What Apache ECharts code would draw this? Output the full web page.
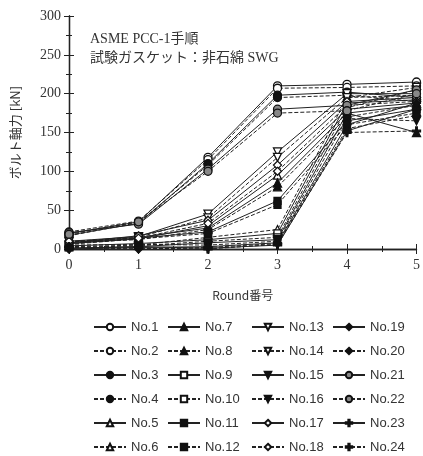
<!DOCTYPE html>
<html><head><meta charset="utf-8">
<script src="https://cdn.jsdelivr.net/npm/echarts@6/dist/echarts.min.js"></script>
<style>html,body{margin:0;padding:0;background:#fff}#c{width:423px;height:456px}</style>
</head><body><div id="c"></div>
<script>
const rounds = [0, 1, 2, 3, 4, 5];
const names = ['No.1','No.2','No.3','No.4','No.5','No.6','No.7','No.8','No.9','No.10','No.11','No.12',
  'No.13','No.14','No.15','No.16','No.17','No.18','No.19','No.20','No.21','No.22','No.23','No.24'];
const no1  = [20, 35, 118, 210, 212, 215];
const no2  = [22, 36, 115, 207, 208, 210];
const no3  = [18, 33, 110, 198, 202, 195];
const no4  = [17, 34, 108, 195, 198, 190];
const no5  = [7, 13, 30, 95, 180, 188];
const no6  = [3, 5, 15, 25, 195, 198];
const no7  = [8, 15, 27, 85, 175, 150];
const no8  = [9, 12, 25, 80, 170, 185];
const no9  = [4, 7, 12, 20, 188, 192];
const no10 = [2, 4, 10, 15, 182, 205];
const no11 = [7, 14, 22, 62, 165, 180];
const no12 = [6, 13, 20, 57, 160, 175];
const no13 = [10, 16, 45, 125, 200, 200];
const no14 = [9, 15, 40, 118, 195, 208];
const no15 = [1, 3, 8, 12, 175, 185];
const no16 = [5, 6, 5, 10, 168, 165];
const no17 = [8, 17, 37, 108, 190, 195];
const no18 = [10, 14, 33, 100, 185, 190];
const no19 = [0, 2, 3, 8, 160, 188];
const no20 = [2, 0, 2, 7, 155, 172];
const no21 = [21, 32, 103, 180, 185, 205];
const no22 = [19, 35, 100, 175, 178, 200];
const no23 = [1, 3, 1, 5, 152, 180];
const no24 = [3, 1, 0, 6, 150, 152];
const values = [no1,no2,no3,no4,no5,no6,no7,no8,no9,no10,no11,no12,no13,no14,no15,no16,no17,no18,no19,no20,no21,no22,no23,no24];

const DOWN = 'path://M0,0 L10,0 L5,9 Z';
const PLUS = 'path://M4,0 H6 V4 H10 V6 H6 V10 H4 V6 H0 V4 H4 Z';
function markerFor(i) {
  const pair = Math.floor(i / 2);
  const map = [
    ['circle', '#fff'], ['circle', '#111'], ['triangle', '#fff'], ['triangle', '#111'],
    ['rect', '#fff'], ['rect', '#111'], [DOWN, '#fff'], [DOWN, '#111'],
    ['diamond', '#fff'], ['diamond', '#111'], ['circle', '#888'], [PLUS, '#111']
  ];
  return map[pair];
}
const series = names.map((n, i) => {
  const m = markerFor(i);
  const dashed = i % 2 === 1;
  return {
    name: n, type: 'line',
    data: rounds.map((r, k) => [r, values[i][k]]),
    symbol: m[0], symbolSize: m[0] === 'rect' ? 7 : 8,
    lineStyle: { color: '#222', width: 1, type: dashed ? [4, 2] : 'solid' },
    itemStyle: { color: m[1], borderColor: '#111', borderWidth: 1.3 },
    emphasis: { disabled: true }, animation: false
  };
});
function legendCol(left, items) {
  return {
    left: left, top: 319, height: 140, padding: 0, orient: 'vertical', data: items,
    itemWidth: 32, itemHeight: 8, itemGap: 8, selectedMode: false,
    textStyle: { fontFamily: 'Liberation Sans, sans-serif', fontSize: 13, color: '#333', lineHeight: 16 }
  };
}
const axisLine = { lineStyle: { color: '#222', width: 1.3 } };
const chart = echarts.init(document.getElementById('c'), null, { renderer: 'canvas' });
chart.setOption({
  animation: false,
  backgroundColor: '#fff',
  grid: { left: 69, right: 4, top: 16, bottom: 207 },
  legend: [
    legendCol(93, names.slice(0, 6)),
    legendCol(167, names.slice(6, 12)),
    legendCol(251, names.slice(12, 18)),
    legendCol(332, names.slice(18, 24))
  ],
  xAxis: [{
    type: 'value', min: 0, max: 5, interval: 1,
    name: 'Round番号', nameLocation: 'middle', nameGap: 40,
    nameTextStyle: { fontFamily: 'Noto Sans CJK JP, sans-serif', fontSize: 12, color: '#333' },
    axisLine: axisLine, axisTick: { inside: true, length: 5, lineStyle: { color: '#222' } },
    minorTick: { show: true, splitNumber: 2, length: 3, lineStyle: { color: '#222' } },
    splitLine: { show: false },
    axisLabel: { fontFamily: 'Liberation Serif, serif', fontSize: 14, color: '#333', margin: 9 }
  }, {
    type: 'value', min: 0, max: 5, interval: 1, position: 'top',
    axisLine: axisLine, axisTick: { inside: true, length: 5, lineStyle: { color: '#222' } },
    minorTick: { show: true, splitNumber: 2, length: 3, lineStyle: { color: '#222' } },
    splitLine: { show: false }, axisLabel: { show: false }
  }],
  yAxis: [{
    type: 'value', min: 0, max: 300, interval: 50,
    name: 'ボルト軸力 [kN]', nameLocation: 'middle', nameGap: 47, nameRotate: 90,
    nameTextStyle: { fontFamily: 'Noto Sans CJK JP, sans-serif', fontSize: 13, color: '#333' },
    axisLine: { show: true, lineStyle: { color: '#222', width: 1.3 } },
    axisTick: { show: true, inside: true, length: 5, lineStyle: { color: '#222' } },
    minorTick: { show: true, splitNumber: 2, length: 3, lineStyle: { color: '#222' } },
    splitLine: { show: false },
    axisLabel: { fontFamily: 'Liberation Serif, serif', fontSize: 14, color: '#333', margin: 8 }
  }, {
    type: 'value', min: 0, max: 300, interval: 50, position: 'right',
    axisLine: { show: true, lineStyle: { color: '#222', width: 1.3 } },
    axisTick: { show: true, inside: true, length: 5, lineStyle: { color: '#222' } },
    minorTick: { show: true, splitNumber: 2, length: 3, lineStyle: { color: '#222' } },
    splitLine: { show: false }, axisLabel: { show: false }
  }],
  graphic: [
    { type: 'text', left: 90, top: 32, style: { text: 'ASME PCC-1手順', font: '14px "Liberation Serif", "Noto Sans CJK JP"', fill: '#333' } },
    { type: 'text', left: 90, top: 51, style: { text: '試験ガスケット：非石綿 SWG', font: '14px "Liberation Serif", "Noto Sans CJK JP"', fill: '#333' } }
  ],
  series: series
});
</script></body></html>
